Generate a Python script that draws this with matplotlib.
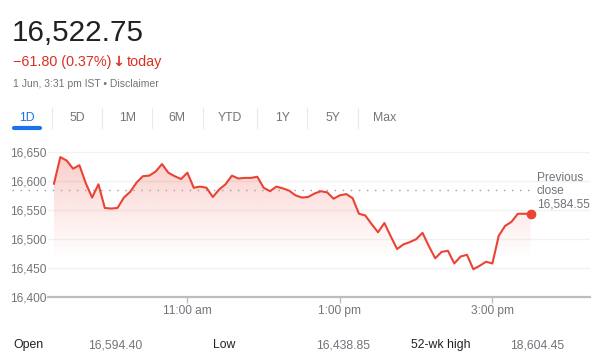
import matplotlib.pyplot as plt
import numpy as np
import pandas as pd
from matplotlib.colors import to_rgb

plt.rcParams['font.family'] = ['Liberation Sans', 'DejaVu Sans']

# 5-minute index prices, 9:15 am to 3:30 pm
price = [16596, 16642, 16636, 16622, 16628, 16597, 16572, 16595, 16554, 16553,
         16554, 16572, 16582, 16598, 16609, 16610, 16617, 16630, 16615, 16609,
         16604, 16615, 16589, 16591, 16589, 16573, 16586, 16595, 16610, 16605,
         16606, 16606, 16608, 16589, 16583, 16591, 16588, 16584, 16576, 16572,
         16573, 16579, 16583, 16581, 16570, 16576, 16578, 16571, 16544, 16541,
         16526, 16512, 16528, 16505, 16483, 16491, 16495, 16500, 16511, 16488,
         16467, 16478, 16480, 16458, 16470, 16473, 16448, 16454, 16461, 16458,
         16506, 16523, 16530, 16544, 16544, 16544]
times = pd.date_range('2022-06-01 09:15', periods=len(price), freq='5min')
prev_close = 16584.55

y_ticks = [16400, 16450, 16500, 16550, 16600, 16650]
x_tick_times = ['11:00', '13:00', '15:00']
x_tick_labels = ['11:00 am', '1:00 pm', '3:00 pm']

tabs = ['1D', '5D', '1M', '6M', 'YTD', '1Y', '5Y', 'Max']
stats = [('Open', '16,594.40'), ('Low', '16,438.85'), ('52-wk high', '18,604.45')]

RED = '#ea4335'
GREY = '#70757a'
DARK = '#202124'

start = times[0]
x = np.array([(t - start).total_seconds() / 60 for t in times])
tick_x = [(pd.Timestamp('2022-06-01 ' + t) - start).total_seconds() / 60 for t in x_tick_times]

W, H = 611, 359
fig = plt.figure(figsize=(W / 100, H / 100), dpi=100)
ax = fig.add_axes([48 / W, 1 - 297 / H, (590 - 48) / W, (297 - 146.7) / H])
ax.set_xlim(-4.7, 421.8)
ax.set_ylim(16400, 16660)

# gradient fill under the line
poly = ax.fill_between(x, price, 16400, color='none', lw=0)
grad = np.zeros((256, 1, 4))
grad[:, 0, :3] = to_rgb(RED)
yy = np.linspace(16660, 16400, 256)
grad[:, 0, 3] = np.clip((yy - 16460) / 200, 0, 1) ** 1.2 * 0.30
img = ax.imshow(grad, extent=[x[0], x[-1], 16400, 16660], aspect='auto',
                origin='upper', zorder=1)
img.set_clip_path(poly.get_paths()[0], transform=ax.transData)

ax.plot(x, price, color=RED, lw=1.5, zorder=3)
ax.plot(x[-1], price[-1], 'o', color=RED, ms=6, zorder=4)

# previous close
ax.plot([-33, 377], [prev_close, prev_close], color='#9aa0a6', lw=1.0,
        ls=(0, (1, 4.8)), clip_on=False, zorder=2)
ax.text(380, 16617, 'Previous\nclose\n{:,.2f}'.format(prev_close), fontsize=8.6,
        color=GREY, va='top', ha='left', linespacing=1.15)

ax.set_yticks(y_ticks)
ax.set_yticklabels(['{:,}'.format(v) for v in y_ticks])
ax.set_xticks(tick_x)
ax.set_xticklabels(x_tick_labels)
ax.grid(axis='y', color='#f1f1f1', lw=1)
ax.set_axisbelow(True)
for s in ['top', 'right', 'left']:
    ax.spines[s].set_visible(False)
ax.spines['bottom'].set_color('#bdbdbd')
ax.spines['bottom'].set_linewidth(1.6)
ax.tick_params(axis='y', length=0, pad=1, labelsize=8.6, labelcolor=GREY)
ax.tick_params(axis='x', length=4, width=1, color='#bdbdbd', pad=2,
               labelsize=8.6, labelcolor=GREY)

# header
fig.text(12 / W, 1 - 41 / H, '16,522.75', fontsize=21.3, color=DARK, va='baseline')
fig.text(13 / W, 1 - 66 / H, '\u221261.80 (0.37%)', fontsize=10.4,
         color='#d93025', va='baseline')
fig.text(118.5 / W, 1 - 66 / H, '\u2193', fontsize=10.4, fontweight='bold',
         family='DejaVu Sans', color='#d93025', va='baseline', ha='center')
fig.text(127 / W, 1 - 66 / H, 'today', fontsize=10.4,
         color='#d93025', va='baseline')
fig.text(13 / W, 1 - 87 / H, '1 Jun, 3:31 pm IST \u2022 Disclaimer', fontsize=7.5,
         color=GREY, va='baseline')

tab_x = [27, 77, 128, 177, 230, 283, 333, 385]
for t, tx in zip(tabs, tab_x):
    fig.text(tx / W, 1 - 118 / H, t, fontsize=8.8, ha='center', va='center',
             color='#1a73e8' if t == '1D' else GREY)
for sx in [52, 102, 152, 203, 257, 307, 358]:
    fig.add_artist(plt.Line2D([sx / W, sx / W], [1 - 108 / H, 1 - 128 / H],
                              color='#ebebeb', lw=0.8))
fig.add_artist(plt.Line2D([14 / W, 40 / W], [1 - 128 / H, 1 - 128 / H],
                          color='#1a73e8', lw=3, solid_capstyle='round'))

# stats row
stat_x = [(13, 88), (213, 316), (411, 510)]
for (lab, val), (lx, vx) in zip(stats, stat_x):
    fig.text(lx / W, 1 - 345 / H, lab, fontsize=8.8, color=DARK, va='center')
    fig.text(vx / W, 1 - 345 / H, val, fontsize=8.8, color=GREY, va='center')

fig.savefig('out.png', dpi=100)
